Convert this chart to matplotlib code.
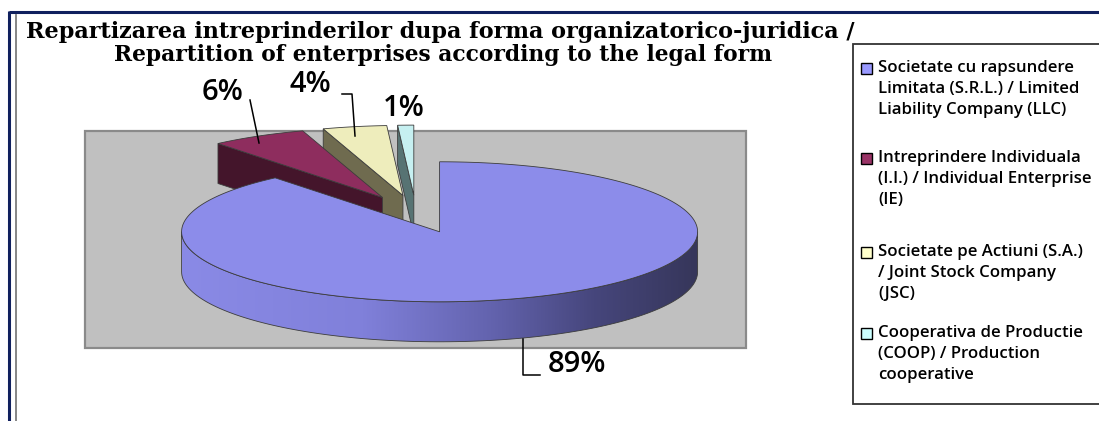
import numpy as np
import matplotlib
matplotlib.use("Agg")
import matplotlib.pyplot as plt
from matplotlib.patches import Polygon, Rectangle
from matplotlib.colors import LinearSegmentedColormap

# ---------------- data ----------------
title_lines = ["Repartizarea intreprinderilor dupa forma organizatorico-juridica /",
               "Repartition of enterprises according to the legal form"]
categories = [
    ["Societate cu rapsundere", "Limitata (S.R.L.) / Limited", "Liability Company (LLC)"],
    ["Intreprindere Individuala", "(I.I.) / Individual Enterprise", "(IE)"],
    ["Societate pe Actiuni (S.A.)", "/ Joint Stock Company", "(JSC)"],
    ["Cooperativa de Productie", "(COOP) / Production", "cooperative"],
]
values = [89, 6, 4, 1]

top_colors = ["#8C8CEA", "#8E2D5E", "#EEEDBC", "#C6F0F1"]
side_colors = ["#8C8CEA", "#44152B", "#6F6B4F", "#577373"]
legend_colors = ["#9999FF", "#993366", "#FFFFCC", "#CCFFFF"]

# ---------------- figure ----------------
W, H = 1099, 421
fig = plt.figure(figsize=(W / 100, H / 100), dpi=100)
ax = fig.add_axes([0, 0, 1, 1])
renderer = fig.canvas.get_renderer()


def set_limits():
    ax.set_xlim(0, W)
    ax.set_ylim(H, 0)


set_limits()
ax.axis('off')


def fit_text(x, y, s, target_w, fs0, **kw):
    t = ax.text(x, y, s, fontsize=fs0, **kw)
    w = t.get_window_extent(renderer=renderer).width
    t.set_fontsize(fs0 * target_w / w)
    return t


# page frame
ax.plot([8.5, W], [12, 12], color='#10205e', lw=2.2, solid_capstyle='butt')
ax.plot([8.5, 8.5], [11, H], color='#10205e', lw=2.2, solid_capstyle='butt')
ax.plot([15.5, 15.5], [15, H], color='#7c7c7c', lw=1.3)

# title
fit_text(440, 38, title_lines[0], 836, 15, ha='center', va='baseline',
         family='DejaVu Serif', weight='bold', color='black')
fit_text(443, 61, title_lines[1], 662, 15, ha='center', va='baseline',
         family='DejaVu Serif', weight='bold', color='black')

# plot area background
ax.add_patch(Rectangle((85, 131), 661, 217, facecolor='#C0C0C0',
                       edgecolor='#8a8a8a', lw=1.6, zorder=1))

# ---------------- 3D pie ----------------
cx0, cy0 = 416, 214
a, b, depth = 258, 70, 40
explode = 0.27
edge_kw = dict(edgecolor='#3c3c3c', lw=0.6)

total = float(sum(values))
slices = []
t = 90.0
for i, v in enumerate(values):
    t_end = t - v / total * 360.0
    slices.append((i, t_end, t))  # slice spans ccw from t_end to t
    t = t_end


def pt(cx, cy, th, dz=0.0):
    r = np.radians(th)
    return cx + a * np.cos(r), cy - b * np.sin(r) + dz


grad = LinearSegmentedColormap.from_list(
    'side', [(0, '#8A8AE6'), (0.35, '#8080DA'), (0.6, '#6363AE'),
             (0.8, '#46467C'), (1.0, '#36365A')])

order = sorted(slices, key=lambda s: -np.sin(np.radians((s[1] + s[2]) / 2)))
order = [s for s in order if s[0] != 0] + [s for s in order if s[0] == 0]

for i, t1, t2 in order:
    m = np.radians((t1 + t2) / 2)
    cx = cx0 + explode * a * np.cos(m)
    cy = cy0 - explode * b * np.sin(m)
    z = 2 + (0 if i else 5)
    if np.cos(np.radians(t2)) < -1e-6:
        p0 = (cx, cy)
        p1 = pt(cx, cy, t2)
        face = [p0, p1, (p1[0], p1[1] + depth), (p0[0], p0[1] + depth)]
        ax.add_patch(Polygon(face, closed=True, facecolor=side_colors[i], zorder=z, **edge_kw))
    if np.cos(np.radians(t1)) > 1e-6:
        p0 = (cx, cy)
        p1 = pt(cx, cy, t1)
        face = [p0, p1, (p1[0], p1[1] + depth), (p0[0], p0[1] + depth)]
        ax.add_patch(Polygon(face, closed=True, facecolor=side_colors[i], zorder=z, **edge_kw))
    segs = []
    for k in range(-2, 2):
        s0 = max(t1, 180 + 360 * k)
        s1 = min(t2, 360 + 360 * k)
        if s1 > s0:
            segs.append((s0, s1))
    for s0, s1 in segs:
        th = np.linspace(s0, s1, 120)
        top = [pt(cx, cy, q) for q in th]
        bot = [pt(cx, cy, q, depth) for q in th[::-1]]
        xs = [p[0] for p in top]
        ys = [p[1] for p in top + bot]
        img = ax.imshow(np.linspace(0, 1, 256)[None, :], cmap=grad, aspect='auto',
                        extent=(min(xs), max(xs), max(ys), min(ys)), zorder=z + 0.1,
                        interpolation='bilinear')
        fill = Polygon(top + bot, closed=True, facecolor='none', edgecolor='none')
        ax.add_patch(fill)
        img.set_clip_path(fill)
        ax.add_patch(Polygon(top + bot, closed=True, facecolor='none', zorder=z + 0.2, **edge_kw))
    th = np.linspace(t1, t2, max(8, int((t2 - t1) * 2)))
    topface = [(cx, cy)] + [pt(cx, cy, q) for q in th]
    ax.add_patch(Polygon(topface, closed=True, facecolor=top_colors[i], zorder=z + 0.5, **edge_kw))

set_limits()

# ---------------- data labels ----------------
lab_kw = dict(family='Open Sans', weight='semibold', fontsize=21, color='black',
              ha='center', va='center', zorder=20)
label_pos = [(577, 364), (223, 92), (310, 84), (404, 109)]
for (x, y), v in zip(label_pos, values):
    ax.text(x, y, f"{v}%", **lab_kw)
ax.plot([523, 523, 540], [339, 375, 375], color='black', lw=1.1, zorder=20)
ax.plot([250, 259], [100, 143], color='black', lw=1.1, zorder=20)
ax.plot([342, 352, 355], [94, 94, 136], color='black', lw=1.1, zorder=20)

# ---------------- legend ----------------
ax.add_patch(Rectangle((853, 44), 300, 360, facecolor='white', edgecolor='#333333',
                       lw=1.3, zorder=10))
entry_y = [68, 158, 252, 333]
line_gap = 21
probe = ax.text(0, 0, categories[0][0], fontsize=10, family='Open Sans', weight='semibold')
fs_leg = 10 * 195 / probe.get_window_extent(renderer=renderer).width
probe.remove()
for lines, col, y0 in zip(categories, legend_colors, entry_y):
    ax.add_patch(Rectangle((861, y0 - 5.5), 11, 11, facecolor=col, edgecolor='black',
                           lw=1.0, zorder=11))
    for k, s in enumerate(lines):
        ax.text(878, y0 + k * line_gap, s, fontsize=fs_leg, family='Open Sans',
                weight='semibold', ha='left', va='center', color='black', zorder=11)

fig.savefig('out.png', dpi=100)
